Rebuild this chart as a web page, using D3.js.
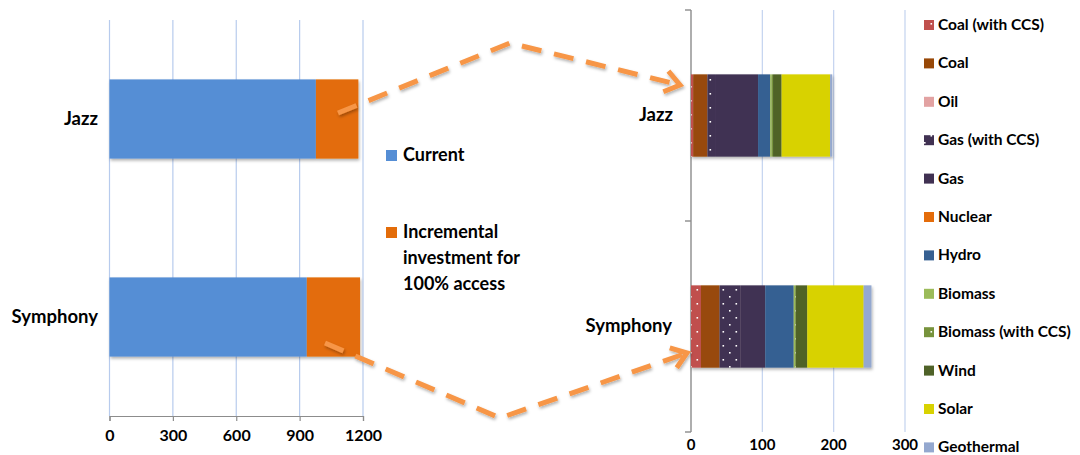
<!DOCTYPE html>
<html>
<head>
<meta charset="utf-8">
<script src="https://cdn.jsdelivr.net/npm/d3@7"></script>
<style>
  html, body { margin: 0; padding: 0; background: #fff; }
  svg { display: block; font-family: Lato, "Open Sans", sans-serif; font-weight: 700; }
</style>
</head>
<body>
<svg id="chart" width="1080" height="455"></svg>
<script>
// Scenarios
const scenarios = ["Jazz", "Symphony"];

// Left panel: investment split
const investSeries = ["Current", "Incremental investment for 100% access"];
const currentValues = [977, 934];
const incrementalValues = [201, 252];
const investTicks = [0, 300, 600, 900, 1200];

// Right panel: generation mix by source
const sources = ["Coal (with CCS)", "Coal", "Oil", "Gas (with CCS)", "Gas", "Nuclear",
                 "Hydro", "Biomass", "Biomass (with CCS)", "Wind", "Solar", "Geothermal"];
const jazzMix     = [3, 20, 0, 12, 59, 0, 17, 2, 2, 12, 68, 3];
const symphonyMix = [14, 26, 0, 29, 35, 0, 40, 2, 1, 16, 79, 11];
const mixTicks = [0, 100, 200, 300];

const sourceColors = ["#c0504d", "#984807", "#e2a2a2", "#403152", "#403152", "#e46c0a",
                      "#366092", "#9bbb59", "#77933c", "#4f6228", "#d8d200", "#94a8cf"];
const dotted = [true, false, false, true, false, false, false, false, true, false, false, false];
const investColors = ["#558ed5", "#e36c09"];

const svg = d3.select("#chart");
const defs = svg.append("defs");

const shadow = defs.append("filter").attr("id", "shadow")
  .attr("x", "-10%").attr("y", "-10%").attr("width", "130%").attr("height", "130%");
shadow.append("feDropShadow").attr("dx", 1).attr("dy", 2)
  .attr("stdDeviation", 1.5).attr("flood-color", "#000").attr("flood-opacity", 0.3);

// dotted fills for the CCS variants
sourceColors.forEach((c, i) => {
  if (!dotted[i]) return;
  const p = defs.append("pattern").attr("id", "dots" + i)
    .attr("patternUnits", "userSpaceOnUse").attr("width", 13).attr("height", 14);
  p.append("rect").attr("width", 13).attr("height", 14).attr("fill", c);
  p.append("rect").attr("x", 1).attr("y", 2).attr("width", 1.6).attr("height", 1.6).attr("fill", "#fff");
  p.append("rect").attr("x", 7.5).attr("y", 9).attr("width", 1.6).attr("height", 1.6).attr("fill", "#fff");
});
const fillFor = i => dotted[i] ? `url(#dots${i})` : sourceColors[i];

// ---------- Left panel ----------
const xL = d3.scaleLinear().domain([0, 1200]).range([109.5, 363]);
const yL = d3.scaleBand().domain(scenarios).range([20, 416]);

const gL = svg.append("g");
gL.selectAll("line.grid").data(investTicks).join("line")
  .attr("x1", d => xL(d)).attr("x2", d => xL(d))
  .attr("y1", 20).attr("y2", 416)
  .attr("stroke", "#b7cbed").attr("stroke-width", 1.2);

const axisL = gL.append("g").attr("transform", "translate(0,416)")
  .call(d3.axisBottom(xL).tickValues(investTicks).tickFormat(d3.format("d")).tickSize(5).tickPadding(9));
axisL.select(".domain").attr("stroke", "#8c8c8c").attr("stroke-width", 1.2);
axisL.selectAll(".tick line").attr("stroke", "#8c8c8c").attr("stroke-width", 1.2);
axisL.selectAll("text").attr("font-family", "Lato, sans-serif").attr("font-weight", 700)
  .attr("font-size", 16).attr("fill", "#000");

const investRows = scenarios.map((s, i) => ({ s, parts: [[0, currentValues[i]], [currentValues[i], currentValues[i] + incrementalValues[i]]] }));
const barHL = yL.bandwidth() * 0.4;
const rowsL = gL.selectAll("g.row").data(investRows).join("g").attr("filter", "url(#shadow)");
rowsL.selectAll("rect").data(d => d.parts.map((p, k) => ({ s: d.s, p, k }))).join("rect")
  .attr("x", d => xL(d.p[0]))
  .attr("width", d => xL(d.p[1]) - xL(d.p[0]))
  .attr("y", d => yL(d.s) + (yL.bandwidth() - barHL) / 2)
  .attr("height", barHL)
  .attr("fill", d => investColors[d.k]);

gL.selectAll("text.cat").data(scenarios).join("text")
  .attr("x", 98).attr("y", d => yL(d) + yL.bandwidth() / 2 + 1)
  .attr("text-anchor", "end").attr("dominant-baseline", "middle")
  .attr("font-size", 18.5).text(d => d);

// left legend
const legL = svg.append("g");
const legLItems = [
  { lines: ["Current"], y: 156 },
  { lines: ["Incremental", "investment for", "100% access"], y: 233 }
];
legLItems.forEach((it, i) => {
  legL.append("rect").attr("x", 386).attr("y", it.y - 6).attr("width", 11).attr("height", 11)
    .attr("fill", investColors[i]);
  it.lines.forEach((ln, k) => {
    legL.append("text").attr("x", 403).attr("y", it.y + k * 26)
      .attr("dominant-baseline", "middle").attr("font-size", 18).text(ln);
  });
});

// ---------- Right panel ----------
const xR = d3.scaleLinear().domain([0, 300]).range([691, 905]);
const yR = d3.scaleBand().domain(scenarios).range([10, 432]);

const gR = svg.append("g");
gR.selectAll("line.grid").data(mixTicks.slice(1)).join("line")
  .attr("x1", d => xR(d)).attr("x2", d => xR(d))
  .attr("y1", 10).attr("y2", 432)
  .attr("stroke", "#c3d3ef").attr("stroke-width", 1.2);

// category axis with boundary ticks
gR.append("line").attr("x1", 691).attr("x2", 691).attr("y1", 10).attr("y2", 432)
  .attr("stroke", "#8c8c8c").attr("stroke-width", 1.4);
gR.selectAll("line.bt").data([10, yR("Symphony"), 432]).join("line")
  .attr("x1", 685).attr("x2", 691).attr("y1", d => d).attr("y2", d => d)
  .attr("stroke", "#8c8c8c").attr("stroke-width", 1.4);

gR.selectAll("text.tick").data(mixTicks).join("text")
  .attr("x", d => xR(d)).attr("y", 446)
  .attr("text-anchor", "middle").attr("dominant-baseline", "middle")
  .attr("font-size", 15).text(d => d);

const mixRows = scenarios.map((s, i) => {
  const vals = i === 0 ? jazzMix : symphonyMix;
  let acc = 0;
  return { s, segs: vals.map((v, k) => { const a = acc; acc += v; return { s, k, a, b: acc }; }).filter(d => d.b > d.a) };
});
const barHR = yR.bandwidth() * 0.39;
const rowsR = gR.selectAll("g.row").data(mixRows).join("g").attr("filter", "url(#shadow)");
rowsR.selectAll("rect").data(d => d.segs).join("rect")
  .attr("x", d => xR(d.a))
  .attr("width", d => xR(d.b) - xR(d.a))
  .attr("y", d => yR(d.s) + (yR.bandwidth() - barHR) / 2)
  .attr("height", barHR)
  .attr("fill", d => fillFor(d.k));

gR.selectAll("text.cat").data(scenarios).join("text")
  .attr("x", d => d === "Jazz" ? 673 : 672)
  .attr("y", d => yR(d) + yR.bandwidth() / 2 + 1)
  .attr("text-anchor", "end").attr("dominant-baseline", "middle")
  .attr("font-size", 18.5).text(d => d);

// right legend
const legR = svg.append("g");
sources.forEach((name, i) => {
  const y = 25 + i * 38.4;
  legR.append("rect").attr("x", 924).attr("y", y - 5).attr("width", 10).attr("height", 10)
    .attr("fill", fillFor(i));
  legR.append("text").attr("x", 938).attr("y", y + 1)
    .attr("dominant-baseline", "middle").attr("font-size", 15.5).text(name);
});

// ---------- connector arrows ----------
const arrows = [
  { pts: [[338, 113], [510, 43], [680, 85]] },
  { pts: [[325, 343], [500, 418], [687, 353]] }
];
const gA = svg.append("g").attr("filter", "url(#shadow)");
arrows.forEach(a => {
  gA.append("path").attr("d", d3.line()(a.pts))
    .attr("fill", "none").attr("stroke", "#f79646").attr("stroke-width", 5)
    .attr("stroke-dasharray", "20 13");
  const [p0, p1] = [a.pts[1], a.pts[2]];
  const ang = Math.atan2(p1[1] - p0[1], p1[0] - p0[0]);
  const len = 18, spread = Math.PI / 5;
  const w1 = [p1[0] - len * Math.cos(ang - spread), p1[1] - len * Math.sin(ang - spread)];
  const w2 = [p1[0] - len * Math.cos(ang + spread), p1[1] - len * Math.sin(ang + spread)];
  gA.append("path").attr("d", d3.line()([w1, p1, w2]))
    .attr("fill", "none").attr("stroke", "#f79646").attr("stroke-width", 5)
    .attr("stroke-linejoin", "miter");
});
</script>
</body>
</html>
